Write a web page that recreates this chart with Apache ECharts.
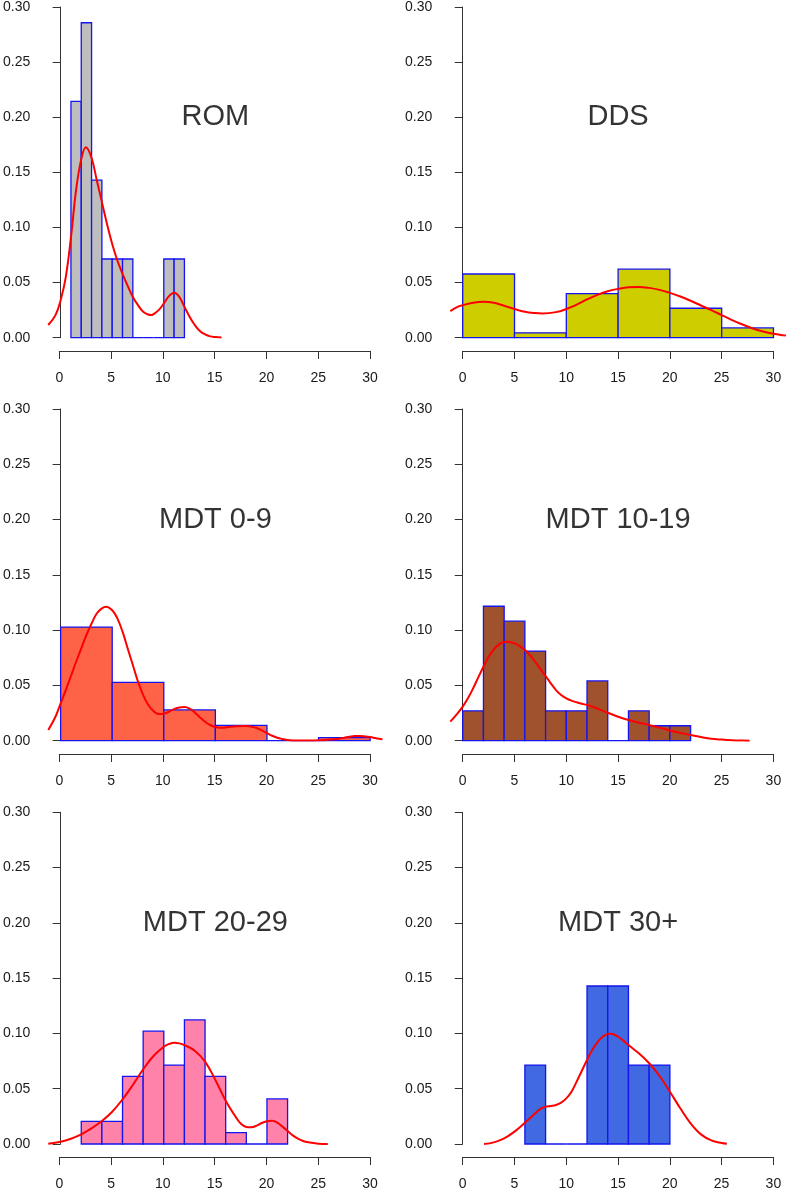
<!DOCTYPE html>
<html>
<head>
<meta charset="utf-8">
<script src="https://cdn.jsdelivr.net/npm/echarts@6/dist/echarts.min.js"></script>
<style>
html,body{margin:0;padding:0;background:#fff;}
#chart{width:787px;height:1191px;}
</style>
</head>
<body>
<div id="chart"></div>
<script>
// ---------- DATA ----------
const panelTitles = ['ROM', 'DDS', 'MDT 0-9', 'MDT 10-19', 'MDT 20-29', 'MDT 30+'];
const xTicks = [0, 5, 10, 15, 20, 25, 30];
const yTicks = [0, 0.05, 0.10, 0.15, 0.20, 0.25, 0.30];
const barColors = ['#BEBEBE', '#CDCD00', '#FF6347', '#A0522D', '#FF82AB', '#4169E1'];

// histogram bin edges and densities
const romBreaks = [1, 2, 3, 4, 5, 6, 7, 8, 9, 10, 11, 12];
const romHeights = [0.2143, 0.2857, 0.1429, 0.0714, 0.0714, 0.0714, 0, 0, 0, 0.0714, 0.0714];

const ddsBreaks = [0, 5, 10, 15, 20, 25, 30];
const ddsHeights = [0.0578, 0.0044, 0.0400, 0.0622, 0.0267, 0.0089];

const mdt0Breaks = [0, 5, 10, 15, 20, 25, 30];
const mdt0Heights = [0.1028, 0.0528, 0.0278, 0.0139, 0, 0.0028];

const mdt10Breaks = [0, 2, 4, 6, 8, 10, 12, 14, 16, 18, 20, 22];
const mdt10Heights = [0.0270, 0.1216, 0.1081, 0.0811, 0.0270, 0.0270, 0.0541, 0, 0.0270, 0.0135, 0.0135];

const mdt20Breaks = [2, 4, 6, 8, 10, 12, 14, 16, 18, 20, 22];
const mdt20Heights = [0.0204, 0.0204, 0.0612, 0.1020, 0.0714, 0.1122, 0.0612, 0.0102, 0, 0.0408];

const mdt30Breaks = [6, 8, 10, 12, 14, 16, 18, 20];
const mdt30Heights = [0.0714, 0, 0, 0.1429, 0.1429, 0.0714, 0.0714];

// density curves [x, y]
const romCurve = [[-1.2,0.0115],[-0.5,0.0205],[0,0.034],[0.5,0.055],[1,0.091],[1.5,0.134],[2,0.162],[2.45,0.1727],[3,0.163],[3.5,0.143],[4,0.123],[4.5,0.103],[5,0.085],[5.5,0.070],[6,0.058],[6.5,0.047],[7,0.037],[7.5,0.0295],[8,0.0235],[8.5,0.021],[8.8,0.0205],[9,0.0214],[9.5,0.025],[10,0.031],[10.5,0.0377],[11,0.0407],[11.5,0.037],[12,0.028],[12.5,0.019],[13,0.0115],[13.5,0.006],[14,0.003],[14.5,0.0012],[15,0.0006],[15.6,0.0002]];

const ddsCurve = [[-1.2,0.0241],[-0.5,0.028],[0,0.0295],[1,0.0317],[2,0.0326],[3,0.0317],[4,0.029],[5,0.026],[6,0.0235],[7,0.0223],[7.7,0.022],[9,0.0232],[10,0.026],[11,0.030],[12,0.0347],[13,0.0389],[14,0.0422],[15,0.0443],[16,0.0458],[17,0.0461],[18,0.0452],[19,0.0434],[20,0.0407],[21,0.0374],[22,0.0335],[23,0.0292],[24,0.025],[25,0.0205],[26,0.016],[27,0.012],[28,0.0084],[29,0.0057],[30,0.0036],[31,0.0021],[31.2,0.0019]];

const mdt0Curve = [[-1.2,0.0096],[-0.5,0.0217],[0,0.0338],[0.5,0.0458],[1,0.0585],[1.5,0.0714],[2,0.0835],[2.5,0.0956],[3,0.106],[3.5,0.115],[4,0.1197],[4.4,0.1212],[5,0.118],[5.5,0.1106],[6,0.0986],[6.5,0.0835],[7,0.0684],[7.5,0.0534],[8,0.0413],[8.5,0.0323],[9,0.0268],[9.5,0.0241],[10,0.0244],[10.5,0.0262],[11,0.0286],[11.5,0.0301],[12,0.0304],[12.5,0.029],[13,0.0256],[13.5,0.0211],[14,0.0172],[14.5,0.0142],[15,0.0124],[15.5,0.0118],[16,0.012],[16.5,0.0127],[17,0.013],[17.5,0.0133],[18,0.0133],[18.5,0.0127],[19,0.0115],[19.5,0.0093],[20,0.0069],[20.5,0.0045],[21,0.0027],[21.5,0.0015],[22,0.0006],[23,0.0001],[24,0.0001],[25,0.0003],[26,0.0009],[27,0.0018],[27.5,0.0027],[28,0.0036],[28.5,0.0042],[29,0.0042],[29.5,0.0039],[30,0.0033],[30.5,0.0024],[31,0.0015],[31.2,0.0012]];

const mdt10Curve = [[-1.2,0.0172],[-0.5,0.0247],[0,0.0308],[0.5,0.0383],[1,0.0473],[1.5,0.0573],[2,0.0669],[2.5,0.076],[3,0.0826],[3.5,0.0871],[4,0.0892],[4.3,0.0895],[5,0.088],[5.5,0.0856],[6,0.082],[6.5,0.0772],[7,0.0714],[7.5,0.0648],[8,0.0585],[8.5,0.0519],[9,0.0458],[9.5,0.0413],[10,0.0383],[10.5,0.0362],[11,0.0347],[11.5,0.0335],[12,0.0323],[12.5,0.0308],[13,0.029],[14,0.0253],[15,0.0217],[16,0.0187],[17,0.0163],[18,0.0142],[19,0.0118],[20,0.0093],[21,0.0072],[22,0.0051],[23,0.0033],[24,0.0018],[25,0.001],[26,0.0004],[27,0.0001],[27.7,0]];

const mdt20Curve = [[-1.2,0.0003],[0,0.0021],[1,0.0048],[2,0.0087],[3,0.0142],[4,0.0208],[5,0.0292],[6,0.0404],[7,0.0534],[8,0.0675],[9,0.0796],[10,0.088],[10.5,0.0904],[11,0.0916],[11.5,0.091],[12,0.0895],[13,0.0844],[14,0.0745],[15,0.0579],[16,0.0392],[17,0.0241],[17.5,0.0181],[18,0.0154],[18.5,0.0151],[19,0.0166],[19.5,0.019],[20,0.0205],[20.5,0.0211],[21,0.0193],[21.5,0.0157],[22,0.0118],[22.5,0.0078],[23,0.0048],[23.5,0.0027],[24,0.0015],[25,0.0003],[25.9,0]];

const mdt30Curve = [[2.06,0],[3,0.0015],[4,0.0051],[5,0.0112],[6,0.0193],[7,0.0277],[7.5,0.0317],[8,0.0338],[8.5,0.0344],[9,0.0353],[9.5,0.0374],[10,0.0413],[10.5,0.0473],[11,0.0564],[11.5,0.0663],[12,0.076],[12.5,0.085],[13,0.092],[13.5,0.097],[14,0.0995],[14.3,0.0998],[15,0.097],[15.5,0.0935],[16,0.0895],[17,0.082],[18,0.073],[19,0.0615],[20,0.0473],[21,0.0323],[22,0.0187],[23,0.0087],[24,0.0033],[25,0.0009],[25.5,0.0003]];

const panelBreaks = [romBreaks, ddsBreaks, mdt0Breaks, mdt10Breaks, mdt20Breaks, mdt30Breaks];
const panelHeights = [romHeights, ddsHeights, mdt0Heights, mdt10Heights, mdt20Heights, mdt30Heights];
const panelCurves = [romCurve, ddsCurve, mdt0Curve, mdt10Curve, mdt20Curve, mdt30Curve];

// ---------- LAYOUT ----------
const colPlotLeft = [46.9, 450.3];   // y-axis position (x = -1.2)
const colAxisLeft = [59.3, 462.7];   // x = 0 position
const plotWidth = 335.6;             // -1.2 .. 31.2
const axisWidth = 310.7;             // 0 .. 30
const rowTop = [6, 409, 812.3];      // y = 0.30 position
const plotHeight = 331.7;            // 0 .. 0.30
const xAxisLineY = [351, 754, 1157.7];

const FONT = '"Liberation Sans", Arial, Helvetica, sans-serif';

const grids = [], xAxes = [], yAxes = [], series = [];

for (let p = 0; p < 6; p++) {
  const col = p % 2, row = Math.floor(p / 2);
  // main plot grid
  grids.push({left: colPlotLeft[col], top: rowTop[row], width: plotWidth, height: plotHeight});
  xAxes.push({type: 'value', gridIndex: 2 * p, min: -1.2, max: 31.2, show: false});
  yAxes.push({
    type: 'value', gridIndex: 2 * p, min: yTicks[0], max: yTicks[yTicks.length - 1], interval: 0.05,
    axisLine: {show: true, lineStyle: {color: '#333', width: 1}},
    axisTick: {show: true, length: 8, lineStyle: {color: '#333', width: 1}},
    axisLabel: {margin: 18, color: '#1a1a1a', fontSize: 14, fontFamily: FONT,
      formatter: v => v.toFixed(2)},
    splitLine: {show: false}
  });
  // x axis grid (axis line spans 0..30 only)
  grids.push({left: colAxisLeft[col], top: xAxisLineY[row] - 1, width: axisWidth, height: 1});
  xAxes.push({
    type: 'value', gridIndex: 2 * p + 1, min: xTicks[0], max: xTicks[xTicks.length - 1], interval: 5,
    position: 'bottom',
    axisLine: {show: true, onZero: false, lineStyle: {color: '#333', width: 1}},
    axisTick: {show: true, length: 8, lineStyle: {color: '#333', width: 1}},
    axisLabel: {margin: 20, color: '#1a1a1a', fontSize: 14, fontFamily: FONT, showMinLabel: true, showMaxLabel: true},
    splitLine: {show: false}
  });
  yAxes.push({type: 'value', gridIndex: 2 * p + 1, min: 0, max: 1, show: false});

  const br = panelBreaks[p], hs = panelHeights[p];
  const bins = hs.map((h, i) => [br[i], br[i + 1], h]);
  const fill = barColors[p];
  series.push({
    type: 'custom', xAxisIndex: 2 * p, yAxisIndex: 2 * p,
    data: bins,
    encode: {x: [0, 1], y: 2},
    renderItem: function (params, api) {
      const a = api.coord([api.value(0), api.value(2)]);
      const b = api.coord([api.value(1), 0]);
      return {
        type: 'rect',
        shape: {x: a[0], y: a[1], width: b[0] - a[0], height: b[1] - a[1]},
        style: {fill: fill, stroke: '#1414F0', lineWidth: 1.3}
      };
    },
    silent: true, z: 2
  });
  series.push({
    type: 'line', xAxisIndex: 2 * p, yAxisIndex: 2 * p,
    data: panelCurves[p], smooth: 0.4, symbol: 'none',
    lineStyle: {color: '#FF0000', width: 2}, silent: true, z: 3
  });
  series.push({
    type: 'scatter', xAxisIndex: 2 * p, yAxisIndex: 2 * p,
    data: [[15, 0.2]], symbolSize: 0, itemStyle: {color: 'rgba(0,0,0,0)'}, silent: true, z: 4,
    label: {show: true, position: 'inside', align: 'center', verticalAlign: 'middle',
      formatter: panelTitles[p], fontSize: 29, color: '#000000', textBorderWidth: 0,
      fontFamily: FONT}
  });
}

const chart = echarts.init(document.getElementById('chart'), null, {renderer: 'canvas'});
chart.setOption({
  animation: false,
  backgroundColor: '#fff',
  grid: grids, xAxis: xAxes, yAxis: yAxes, series: series
});
</script>
</body>
</html>
